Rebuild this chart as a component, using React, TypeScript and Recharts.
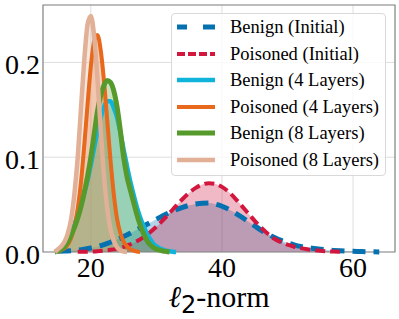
import {
  Area,
  CartesianGrid,
  ComposedChart,
  Line,
  ReferenceArea,
  XAxis,
  YAxis,
} from "recharts";

// l2-norm grid for the narrow (4 / 8 layer) curves, half steps
const fineNorms = [
  14, 14.5, 15, 15.5, 16, 16.5, 17, 17.5, 18, 18.5, 19, 19.5, 20, 20.5, 21,
  21.5, 22, 22.5, 23, 23.5, 24, 24.5, 25, 25.5, 26, 26.5, 27, 27.5, 28, 28.5,
  29, 29.5, 30, 30.5, 31, 31.5, 32, 32.5, 33, 33.5, 34,
];

// l2-norm grid for the wide (initial) curves
const coarseNorms = [
  14, 15, 16, 17, 18, 19, 20, 21, 22, 23, 24, 25, 26, 27, 28, 29, 30, 31, 32,
  33, 34, 35, 36, 37, 38, 39, 40, 41, 42, 43, 44, 45, 46, 47, 48, 49, 50, 51,
  52, 53, 54, 55, 56, 57, 58, 59, 60, 61, 62, 63, 64, 65,
];

const benignInitial = [
  null, 0.0007, 0.001, 0.0013, 0.002, 0.003, 0.0042, 0.0058, 0.0078, 0.0103,
  0.0131, 0.0163, 0.0197, 0.0234, 0.0272, 0.0309, 0.0346, 0.0382, 0.0416,
  0.0446, 0.0472, 0.0492, 0.0507, 0.0515, 0.0516, 0.0504, 0.0483, 0.0452,
  0.0413, 0.0369, 0.0322, 0.0275, 0.0229, 0.019, 0.0153, 0.0122, 0.0097,
  0.0076, 0.0059, 0.0047, 0.0037, 0.0029, 0.0022, 0.0017, 0.0013, 0.001,
  0.0007, 0.0005, 0.0003, 0.0002, 0.0001, null,
];

const poisonedInitial = [
  null, null, null, null, 0.0002, 0.0003, 0.0005, 0.0009, 0.0015, 0.0023,
  0.0036, 0.0054, 0.008, 0.0113, 0.0155, 0.0206, 0.0267, 0.0336, 0.041,
  0.0486, 0.0559, 0.0624, 0.0676, 0.0711, 0.0726, 0.0718, 0.0687, 0.0635,
  0.0567, 0.0489, 0.0408, 0.0329, 0.0256, 0.0192, 0.014, 0.0104, 0.0077,
  0.0056, 0.0041, 0.0029, 0.002, 0.0013, 0.0008, 0.0004, 0.0002, null, null,
  null, null, null, null, null,
];

const benign4 = [
  null, 0, 0.001, 0.003, 0.007, 0.012, 0.02, 0.029, 0.039, 0.05, 0.062, 0.076,
  0.092, 0.11, 0.127, 0.142, 0.153, 0.159, 0.159, 0.152, 0.142, 0.126, 0.108,
  0.091, 0.075, 0.061, 0.048, 0.037, 0.028, 0.02, 0.014, 0.009, 0.006, 0.004,
  0.0025, 0.0015, 0.0008, 0.0003, 0, null, null,
];

const poisoned4 = [
  null, null, 0, 0.002, 0.004, 0.008, 0.015, 0.027, 0.046, 0.074, 0.113,
  0.156, 0.196, 0.222, 0.229, 0.213, 0.181, 0.139, 0.097, 0.061, 0.035, 0.02,
  0.011, 0.006, 0.003, 0.0015, 0.0005, 0, null, null, null, null, null, null,
  null, null, null, null, null, null, null,
];

const benign8 = [
  null, 0, 0.001, 0.003, 0.006, 0.011, 0.018, 0.026, 0.036, 0.048, 0.063,
  0.08, 0.1, 0.124, 0.148, 0.165, 0.176, 0.181, 0.179, 0.17, 0.153, 0.128,
  0.1, 0.08, 0.066, 0.053, 0.04, 0.029, 0.02, 0.013, 0.008, 0.005, 0.003,
  0.002, 0.001, 0.0005, 0, null, null, null, null,
];

const poisoned8 = [
  null, 0, 0.003, 0.006, 0.011, 0.02, 0.035, 0.062, 0.1, 0.152, 0.203, 0.24,
  0.249, 0.228, 0.184, 0.13, 0.081, 0.046, 0.024, 0.012, 0.005, 0.002,
  0.0005, 0, null, null, null, null, null, null, null, null, null, null, null,
  null, null, null, null, null, null,
];

const yTicks = [0, 0.1, 0.2];
const xTicks = [20, 40, 60];

type Series = {
  key: string;
  name: string;
  values: (number | null)[];
  grid: number[];
  color: string;
  width: number;
  dash?: string;
  legendDash?: string;
};

const series: Series[] = [
  { key: "bi", name: "Benign (Initial)", values: benignInitial, grid: coarseNorms, color: "#0571B0", width: 5, dash: "13 8", legendDash: "10 16 12" },
  { key: "pi", name: "Poisoned (Initial)", values: poisonedInitial, grid: coarseNorms, color: "#D2163E", width: 4, dash: "10 5", legendDash: "8 3" },
  { key: "b4", name: "Benign (4 Layers)", values: benign4, grid: fineNorms, color: "#10B4DA", width: 4.5 },
  { key: "p4", name: "Poisoned (4 Layers)", values: poisoned4, grid: fineNorms, color: "#E8681C", width: 4 },
  { key: "b8", name: "Benign (8 Layers)", values: benign8, grid: fineNorms, color: "#579A2C", width: 5 },
  { key: "p8", name: "Poisoned (8 Layers)", values: poisoned8, grid: fineNorms, color: "#E1B096", width: 4.5 },
];

// merge every curve onto one table keyed by the l2-norm
const rowMap = new Map<number, Record<string, number | null>>();
series.forEach((s) => {
  s.grid.forEach((x, i) => {
    const row = rowMap.get(x) ?? { x };
    row[s.key] = s.values[i];
    rowMap.set(x, row);
  });
});
const rows = Array.from(rowMap.values()).sort(
  (a, b) => (a.x as number) - (b.x as number)
);

const serif = "Liberation Serif, Times New Roman, Times, DejaVu Serif, serif";

function AxisTitle(props: any) {
  const vb = props.viewBox ?? { x: 43, y: 252, width: 352 };
  const cx = vb.x + vb.width / 2;
  return (
    <text x={cx} y={vb.y + 55} textAnchor="middle" style={{ fontFamily: serif }} fontSize={30} fill="#000">
      <tspan style={{ fontFamily: "DejaVu Serif" }} fontStyle="italic" fontSize={30}>ℓ</tspan>
      <tspan style={{ fontFamily: "DejaVu Sans" }} fontSize={24} dy={6}>2</tspan>
      <tspan dy={-6}>-norm</tspan>
    </text>
  );
}

function LegendBox() {
  return (
    <div
      style={{
        position: "absolute",
        left: 171,
        top: 13,
        width: 213,
        height: 161,
        background: "rgba(255,255,255,0.8)",
        border: "1px solid #d9d9d9",
        borderRadius: 4,
        fontFamily: serif,
        fontSize: 18.5,
        color: "#000",
      }}
    >
      {series.map((s) => (
        <div key={s.key} style={{ display: "flex", alignItems: "center", height: 26.5, lineHeight: "26.5px", whiteSpace: "nowrap" }}>
          <svg width={38} height={10} style={{ marginLeft: 5, marginRight: 15, flex: "none" }}>
            <line x1={0} y1={5} x2={38} y2={5} stroke={s.color} strokeWidth={s.width} strokeDasharray={s.legendDash} />
          </svg>
          <span>{s.name}</span>
        </div>
      ))}
    </div>
  );
}

export default function App() {
  return (
    <div style={{ position: "absolute", left: 0, top: 0, width: 399, height: 319, background: "#fff", fontFamily: serif }}>
      <ComposedChart width={399} height={319} data={rows} margin={{ top: 5, right: 4, left: 3, bottom: 0 }}>
        <CartesianGrid stroke="#dedede" strokeWidth={1} />
        <XAxis
          dataKey="x"
          type="number"
          domain={[12.7, 66.4]}
          ticks={xTicks}
          axisLine={false}
          tickLine={false}
          tickSize={0}
          tickMargin={5}
          height={67}
          tick={{ fill: "#000", fontSize: 28, style: { fontFamily: serif } }}
          label={<AxisTitle />}
        />
        <YAxis
          type="number"
          domain={[0, 0.2606]}
          ticks={yTicks}
          width={40}
          axisLine={false}
          tickLine={false}
          tickSize={0}
          tickMargin={3}
          tickFormatter={(v: number) => v.toFixed(1)}
          tick={{ fill: "#000", fontSize: 28, dy: 2, style: { fontFamily: serif } }}
        />
        {series.map((s) => (
          <Area
            key={`fill-${s.key}`}
            type="monotone"
            dataKey={s.key}
            fill={s.color}
            fillOpacity={0.3}
            stroke="none"
            connectNulls
            isAnimationActive={false}
            legendType="none"
          />
        ))}
        {series.map((s) => (
          <Line
            key={`line-${s.key}`}
            type="monotone"
            dataKey={s.key}
            name={s.name}
            stroke={s.color}
            strokeWidth={s.width}
            strokeDasharray={s.dash}
            dot={false}
            activeDot={false}
            connectNulls
            isAnimationActive={false}
          />
        ))}
        <ReferenceArea x1={12.7} x2={66.4} y1={0} y2={0.2606} fill="none" stroke="#8a8a8a" strokeWidth={1.2} ifOverflow="visible" />
      </ComposedChart>
      <LegendBox />
    </div>
  );
}
